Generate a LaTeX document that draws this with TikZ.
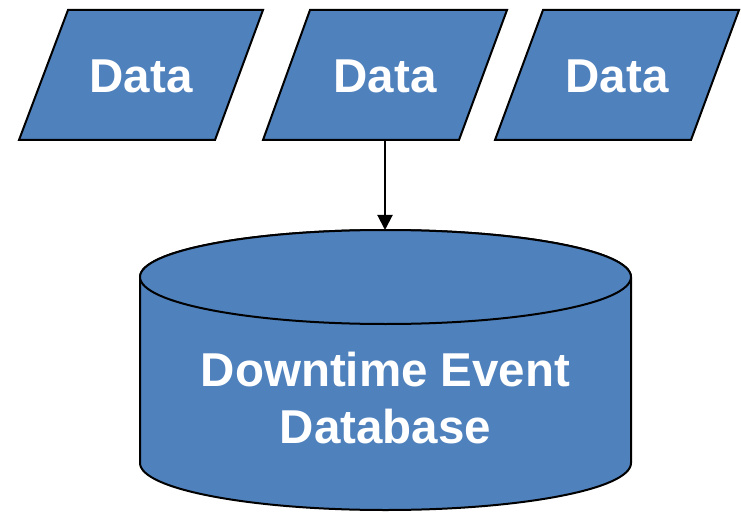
\documentclass[tikz,border=0pt]{standalone}
\usepackage{fontspec}
\setmainfont{Liberation Sans}
\usetikzlibrary{arrows.meta}
\definecolor{fillblue}{HTML}{4F81BD}
\tikzset{
  shapebox/.style={fill=fillblue,draw=black,line width=2pt,line join=miter},
  lbl/.style={text=white,font=\fontsize{47.5}{57}\selectfont\bfseries,inner sep=0pt,align=center},
  conn/.style={draw=black,line width=2pt,-{Triangle[length=15pt,width=15pt]}}
}
\begin{document}
\begin{tikzpicture}[x=1pt,y=1pt]
\useasboundingbox (0,0) rectangle (741,512);
% parallelograms
\draw[shapebox] (68,502) -- (263,502) -- (215,372) -- (19,372) -- cycle;
\draw[shapebox] (310,502) -- (507,502) -- (459,372) -- (263,372) -- cycle;
\draw[shapebox] (543,502) -- (739,502) -- (691,372) -- (495,372) -- cycle;
\node[lbl] (d1) at (141,436) {Data};
\node[lbl] (d2) at (385,436) {Data};
\node[lbl] (d3) at (617,436) {Data};
% cylinder
\draw[shapebox] (140,235) -- (140,49)
  arc[start angle=180,end angle=360,x radius=245.5,y radius=47]
  -- (631,235)
  arc[start angle=0,end angle=180,x radius=245.5,y radius=47] -- cycle;
\draw[shapebox] (385.5,235) ellipse[x radius=245.5,y radius=47];
\node[lbl] (db) at (385.5,114) {Downtime Event\\Database};
% connector
\coordinate (d2b) at (385,372);
\coordinate (dbt) at (385,282);
\draw[conn] (d2b) -- (dbt);
\end{tikzpicture}
\end{document}
